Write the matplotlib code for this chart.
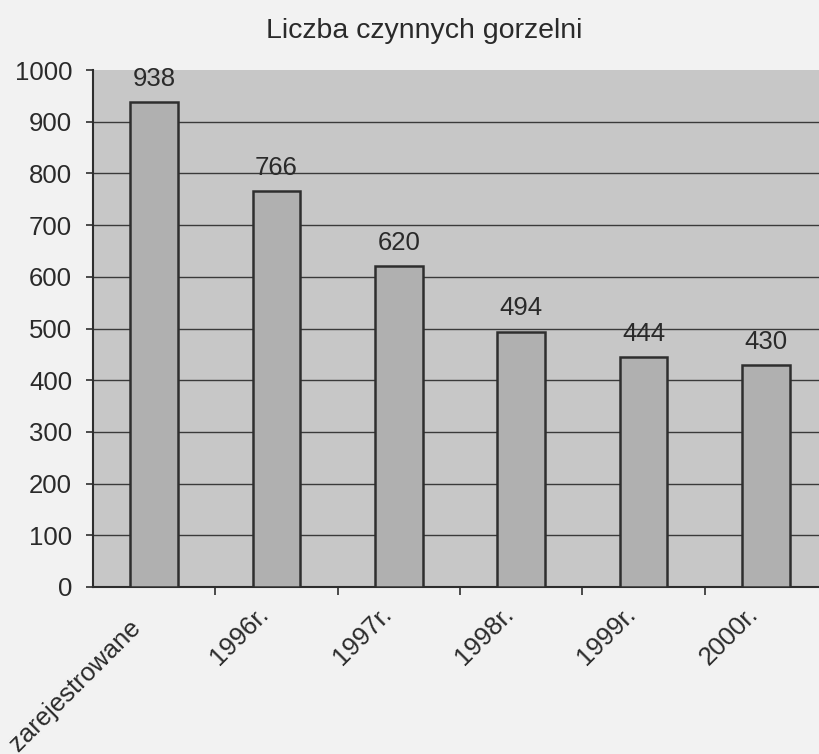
import matplotlib
matplotlib.use("Agg")
import matplotlib.pyplot as plt
import matplotlib.transforms as mtransforms

categories = ["zarejestrowane", "1996r.", "1997r.", "1998r.", "1999r.", "2000r."]
values = [938, 766, 620, 494, 444, 430]
yticks = [0, 100, 200, 300, 400, 500, 600, 700, 800, 900, 1000]

FS = 18.5
TXT = '#2a2a2a'

fig = plt.figure(figsize=(8.19, 7.54), dpi=100, facecolor='#f2f2f2')
ax = fig.add_axes([93 / 819, 167 / 754, 734 / 819, 517 / 754])
ax.set_facecolor('#c7c7c7')

x = list(range(len(categories)))
ax.bar(x, values, width=0.39, color='#b0b0b0', edgecolor='#2e2e2e', linewidth=1.8, zorder=3)

for xi, v in zip(x, values):
    ax.annotate(str(v), (xi, v), xytext=(0, 8), textcoords='offset points',
                ha='center', va='bottom', fontsize=FS, color=TXT,
                family='Liberation Sans', zorder=4)

ax.set_xlim(-0.5, len(categories) - 0.5)
ax.set_ylim(0, 1000)
ax.set_yticks(yticks)
ax.set_yticklabels([str(t) for t in yticks], fontsize=FS, color=TXT, family='Liberation Sans')
ax.yaxis.grid(True, color='#3a3a3a', linewidth=1.0, zorder=1)
ax.get_ygridlines()[-1].set_visible(False)
ax.set_axisbelow(True)

# ticks between categories, labels at bar centres
ax.set_xticks([i + 0.5 for i in range(len(categories) - 1)])
ax.set_xticklabels([])
ax.set_xticks(x, minor=True)
ax.set_xticklabels(categories, minor=True, rotation=45, ha='right', rotation_mode='anchor',
                   fontsize=FS, color=TXT, family='Liberation Sans')
ax.tick_params(axis='x', which='minor', length=0, pad=18)
ax.tick_params(axis='x', which='major', length=6, width=1.2, color='#2e2e2e', direction='out')
ax.tick_params(axis='y', length=5, width=1.2, color='#2e2e2e', pad=10)

for i, lab in enumerate(ax.get_xticklabels(minor=True)):
    dx, dy = (-26, -4) if i == 0 else (-20, 10)
    lab.set_transform(lab.get_transform() + mtransforms.ScaledTranslation(dx / 100, dy / 100, fig.dpi_scale_trans))

for side in ['top', 'right']:
    ax.spines[side].set_visible(False)
for side in ['left', 'bottom']:
    ax.spines[side].set_color('#2e2e2e')
    ax.spines[side].set_linewidth(1.5)

fig.text(424 / 819, 1 - 31 / 754, "Liczba czynnych gorzelni", ha='center', va='center',
         fontsize=20.5, color=TXT, family='Liberation Sans')

fig.savefig("out.png", dpi=100, facecolor=fig.get_facecolor())
